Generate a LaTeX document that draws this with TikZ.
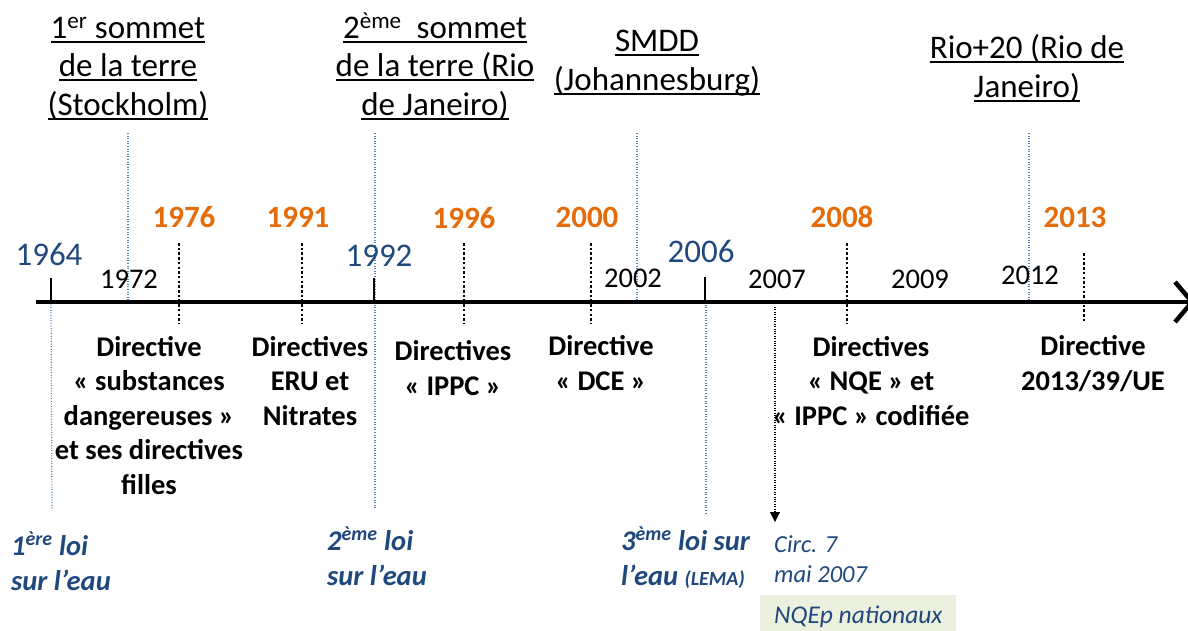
\documentclass[tikz,border=0pt]{standalone}
\usepackage{fontspec}
\setmainfont{Carlito}
\usetikzlibrary{arrows.meta}

\definecolor{yearblue}{RGB}{31,73,125}
\definecolor{yearorange}{RGB}{228,108,10}
\definecolor{dotblue}{RGB}{79,129,189}
\definecolor{boxgreen}{RGB}{235,241,222}

\newsavebox{\ulbox}
\newcommand{\ulin}[1]{\sbox{\ulbox}{#1}\rlap{\rule[-4.5pt]{\wd\ulbox}{1.7pt}}\usebox{\ulbox}}
\newcommand{\fsz}[2]{\fontsize{#1}{#2}\selectfont}

\tikzset{
	summit/.style={anchor=base, align=center, font={\fsz{33}{38.5}}},
	bigyear/.style={anchor=base, text=yearblue, font={\fsz{33}{36}}},
	smallyear/.style={anchor=base, font={\fsz{28.5}{34}}},
	dateyear/.style={anchor=base, text=yearorange, font={\bfseries\fsz{31}{36}}},
	directive/.style={anchor=base, align=center, font={\bfseries\fsz{28.5}{34.5}}},
	loi/.style={anchor=base west, align=left, text=yearblue, font={\bfseries\itshape\fsz{28.5}{35}}},
	circ/.style={anchor=base west, align=left, text=yearblue, font={\itshape\fsz{24.5}{30}}},
	bluedot/.style={dotblue, line width=1.2pt, dash pattern=on 1pt off 1.6pt},
	datetick/.style={line width=2.5pt, dash pattern=on 2.5pt off 2.2pt},
	yeartick/.style={line width=2.2pt},
}

\begin{document}
\begin{tikzpicture}[x=1pt, y=-1pt, every node/.style={inner sep=0pt}]
		\useasboundingbox (0,0) rectangle (1188,630);
		
		% sommets de la terre
		\node [summit] (stockholm) at (128,115) {\ulin{1\textsuperscript{er} sommet}\\\ulin{de la terre}\\\ulin{(Stockholm)}};
		\node [summit] (rio) at (435,115) {\ulin{2\textsuperscript{ème}\ \ sommet}\\\ulin{de la terre (Rio}\\\ulin{de Janeiro)}};
		\node [summit] (smdd) at (657,90) {\ulin{SMDD}\\\ulin{(Johannesburg)}};
		\node [summit] (rio20) at (1027,97) {\ulin{Rio+20 (Rio de}\\\ulin{Janeiro)}};
		
		\draw [bluedot] (128,133) -- (128,302);
		\draw [bluedot] (375,133) -- (375,510);
		\draw [bluedot] (637,133) -- (637,302);
		\draw [bluedot] (1029,133) -- (1029,302);
		\draw [bluedot] (51,302) -- (52,510);
		\draw [bluedot] (706,302) -- (706,515);
		
		% frise
		\coordinate (start) at (36,302);
		\coordinate (end) at (1195,302);
		\draw [line width=4.5pt, -{Straight Barb[length=17pt, width=40pt]}] (start) -- (end);
		
		\draw [yeartick] (51,278) -- (51,302);
		\draw [yeartick] (374,278) -- (374,302);
		\draw [line width=1.8pt] (705,277) -- (705,302);
		
		\draw [datetick] (179,243) -- (179,323);
		\draw [datetick] (302,243) -- (302,323);
		\draw [datetick] (464,243) -- (464,323);
		\draw [datetick] (591,243) -- (591,323);
		\draw [datetick] (847,243) -- (847,323);
		\draw [datetick] (1084,253) -- (1084,323);
		
		% annees
		\node [bigyear] (y1964) at (49,265) {1964};
		\node [smallyear] (y1972) at (129,288) {1972};
		\node [dateyear] (y1976) at (184,227) {1976};
		\node [dateyear] (y1991) at (298,227) {1991};
		\node [bigyear] (y1992) at (379,266) {1992};
		\node [dateyear] (y1996) at (464,228) {1996};
		\node [dateyear] (y2000) at (587,227) {2000};
		\node [smallyear] (y2002) at (633,287) {2002};
		\node [bigyear] (y2006) at (701,262) {2006};
		\node [smallyear] (y2007) at (777,288) {2007};
		\node [dateyear] (y2008) at (842,227) {2008};
		\node [smallyear] (y2009) at (920,288) {2009};
		\node [smallyear] (y2012) at (1030,284) {2012};
		\node [dateyear] (y2013) at (1075,227) {2013};
		
		% directives
		\node [directive] (subst) at (149,494) {Directive\\« substances\\dangereuses »\\et ses directives\\filles};
		\node [directive] (eru) at (310,425) {Directives\\ERU et\\Nitrates};
		\node [directive] (ippc) at (453,395) {Directives\\« IPPC »};
		\node [directive] (dce) at (601,390) {Directive\\« DCE »};
		\node [directive] (nqe) at (871,425) {Directives\\« NQE » et\\« IPPC » codifiée};
		\node [directive] (ue) at (1093,390) {Directive\\2013/39/UE};
		
		% lois sur l'eau
		\node [loi] (loi1) at (11,590) {1\textsuperscript{ère} loi\\sur l’eau};
		\node [loi] (loi2) at (327,585) {2\textsuperscript{ème} loi\\sur l’eau};
		\node [loi] (loi3) at (621,585) {3\textsuperscript{ème} loi sur\\l’eau {\fsz{20}{24}(LEMA)}};
		
		\coordinate (t2007) at (775,307);
		\coordinate (a2007) at (775,522);
		\draw [line width=1.1pt, dash pattern=on 1pt off 1.4pt, -{Triangle[length=10pt, width=10pt, sep=0pt]}] (t2007) -- (a2007);
		\node [circ] (circ) at (774,582) {Circ. 7\\mai 2007};
		
		\fill [boxgreen] (760,595) rectangle (956,632);
		\node [circ, font={\itshape\fsz{25.5}{30}}] (nqep) at (774,623) {NQEp nationaux};
	\end{tikzpicture}
\end{document}
